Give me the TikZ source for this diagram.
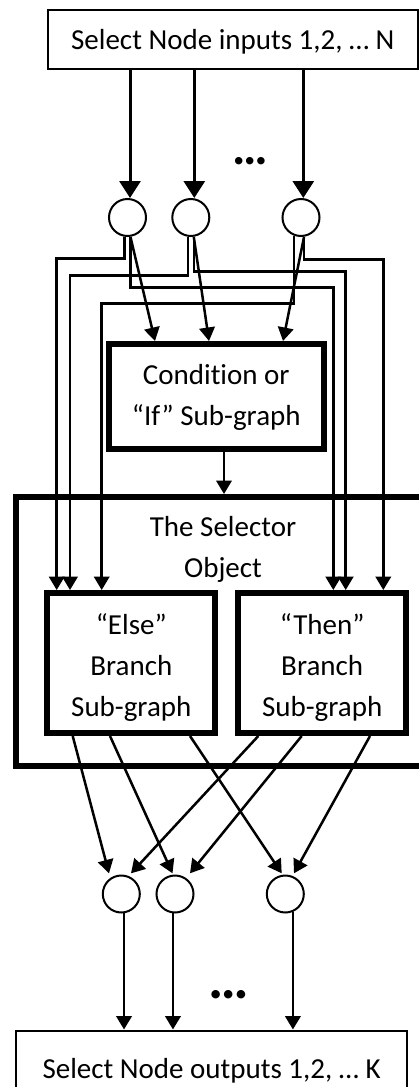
\documentclass[tikz,border=0pt]{standalone}
\usepackage{fontspec}
\setmainfont[Ligatures=NoCommon]{Carlito}
\usetikzlibrary{arrows.meta}
\begin{document}
\begin{tikzpicture}[x=1pt,y=-1pt,
  font=\fontsize{29}{41}\selectfont,
  thinbox/.style={draw,rectangle,line width=2pt,inner sep=0pt},
  thickbox/.style={draw,rectangle,line width=6pt,inner sep=0pt},
  junction/.style={draw,circle,line width=2pt,minimum size=37pt,inner sep=0pt},
  wire/.style={line width=2.5pt},
  arr/.style={wire,-{Triangle[length=13.5pt,width=15.5pt]}},
  bigarr/.style={line width=3pt,-{Triangle[length=17pt,width=21pt]}},
  ellipsisdots/.style={inner sep=0pt,font=\bfseries\fontsize{#1}{#1}\selectfont},
]
\useasboundingbox (0,0) rectangle (419,1087);
\clip (0,0) rectangle (419,1087);

% input and output terminals
\node[thinbox,minimum width=370pt,minimum height=58.8pt,text height=19.8pt,text depth=0pt]
  (inputs) at (232.8,39.4) {Select Node inputs 1,2, … N};
\node[thinbox,minimum width=390.8pt,minimum height=77pt,text height=18pt,text depth=0pt]
  (outputs) at (211.6,1069) {Select Node outputs 1,2, … K};

% input junctions
\node[junction] (c1) at (127.5,217.5) {};
\node[junction] (c2) at (190.8,217.5) {};
\node[junction] (c3) at (301,217.5) {};
\node[ellipsisdots=50] (indots) at (250.7,160.7) {…};

% condition sub-graph
\node[thickbox,minimum width=215pt,minimum height=105pt,text height=0pt,text depth=25pt]
  (cond) at (216.3,396.5) {\begin{tabular}[t]{@{}c@{}}Condition or\\“If” Sub-graph\end{tabular}};

% selector object with its two branches
\node[thickbox,minimum width=414pt,minimum height=269pt,text height=0pt,text depth=189.6pt]
  (selector) at (223,631.5) {\begin{tabular}[t]{@{}c@{}}The Selector\\Object\end{tabular}};
\node[thickbox,minimum width=168pt,minimum height=140pt,text height=0pt,text depth=58pt]
  (elsebr) at (131.3,663) {\begin{tabular}[t]{@{}c@{}}“Else”\\Branch\\Sub-graph\end{tabular}};
\node[thickbox,minimum width=168pt,minimum height=140pt,text height=0pt,text depth=58pt]
  (thenbr) at (322.2,663) {\begin{tabular}[t]{@{}c@{}}“Then”\\Branch\\Sub-graph\end{tabular}};

% output junctions
\node[junction] (cA) at (121.3,894) {};
\node[junction] (cB) at (175,894) {};
\node[junction] (cC) at (285.3,894) {};
\node[ellipsisdots=57] (outdots) at (228.3,995) {…};

% inputs into the junctions
\coordinate (c1in) at ([xshift=2.5pt]c1.north);
\coordinate (c2in) at ([xshift=3.5pt]c2.north);
\coordinate (c3in) at ([xshift=2.3pt]c3.north);
\draw[bigarr] (inputs.south -| c1in) -- (c1in);
\draw[bigarr] (inputs.south -| c2in) -- (c2in);
\draw[bigarr] (inputs.south -| c3in) -- (c3in);

% junctions into the condition
\draw[arr] ([xshift=3pt]c1.south) -- ([xshift=49.2pt]cond.north west);
\draw[arr] ([xshift=3pt]c2.south) -- ([xshift=103.2pt]cond.north west);
\draw[arr] ([xshift=3pt]c3.south) -- ([xshift=177.2pt]cond.north west);

% junctions into the else branch
\draw[arr] ([xshift=-3pt]c1.south) -- ++(0,21.3) -| ([xshift=12.4pt]elsebr.north west);
\draw[arr] ([xshift=-3pt]c2.south) -- ++(0,38.7) -| ([xshift=25.7pt]elsebr.north west);
\draw[arr] (c3.-111) -- ++(0,67.6) -| ([xshift=57.4pt]elsebr.north west);

% junctions into the then branch
\draw[arr] ([xshift=3pt]c1.south) -- ++(0,50.7) -| ([xshift=98.1pt]thenbr.north west);
\draw[arr] ([xshift=3pt]c2.south) -- ++(0,34.7) -| ([xshift=110.5pt]thenbr.north west);
\draw[arr] ([xshift=3pt]c3.south) -- ++(0,22.3) -| ([xshift=148.1pt]thenbr.north west);

% condition result into the selector
\draw[arr] ([xshift=118.2pt]cond.south west) -- ([xshift=118.2pt]cond.south west |- selector.north);

% branches into the output junctions
\draw[arr] ([xshift=28.4pt]elsebr.south west) -- ([xshift=-12.3pt,yshift=1.2pt]cA.north);
\draw[arr] ([xshift=65.7pt]elsebr.south west) -- ([xshift=-2.5pt,yshift=1.2pt]cB.north);
\draw[arr] ([xshift=145.7pt]elsebr.south west) -- ([xshift=-3.6pt,yshift=1.2pt]cC.north);
\draw[arr] ([xshift=23.1pt]thenbr.south west) -- ([xshift=9.7pt,yshift=1.2pt]cA.north);
\draw[arr] ([xshift=66.5pt]thenbr.south west) -- ([xshift=15pt,yshift=1.2pt]cB.north);
\draw[arr] ([xshift=134.8pt]thenbr.south west) -- ([xshift=8.7pt,yshift=1.2pt]cC.north);

% output junctions into the outputs
\draw[arr] (cA.-82) -- (cA.-82 |- outputs.north);
\draw[arr] (cB.-96) -- (cB.-96 |- outputs.north);
\draw[arr] (cC.-67) -- (cC.-67 |- outputs.north);
\end{tikzpicture}
\end{document}
